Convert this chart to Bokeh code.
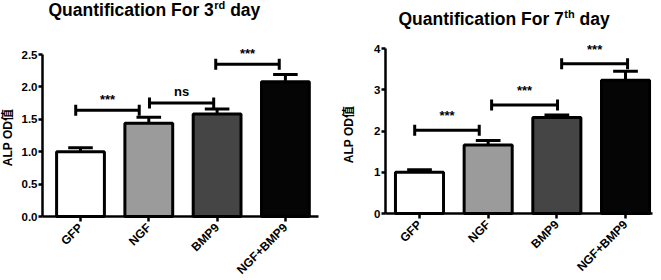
import math
from bokeh.plotting import figure
from bokeh.layouts import row
from bokeh.models import FixedTicker, Label, Range1d, NumeralTickFormatter, ColumnDataSource
from bokeh.embed import file_html
from bokeh.resources import INLINE

# ---------------- data ----------------
categories = ["GFP", "NGF", "BMP9", "NGF+BMP9"]
bar_colors = ["#ffffff", "#9b9b9b", "#454545", "#050505"]

day3_mean = [1.00, 1.44, 1.58, 2.08]
day3_err = [0.06, 0.09, 0.08, 0.11]
day3_ticks = [0.0, 0.5, 1.0, 1.5, 2.0, 2.5]
day3_sig_text = ["***", "ns", "***"]
day3_sig_y = [1.64, 1.75, 2.35]
day3_sig_x0 = [-0.07, 1.01, 1.98]
day3_sig_x1 = [0.86, 1.95, 2.91]

day7_mean = [1.00, 1.66, 2.33, 3.23]
day7_err = [0.06, 0.11, 0.06, 0.22]
day7_ticks = [0, 1, 2, 3, 4]
day7_sig_text = ["***", "***", "***"]
day7_sig_y = [2.02, 2.63, 3.63]
day7_sig_x0 = [-0.07, 1.05, 2.07]
day7_sig_x1 = [0.87, 2.01, 3.03]

y_label = "ALP OD值"

FONT = "Liberation Sans"
YFONT = "Liberation Sans, Noto Sans CJK SC"
LSHIFT = 7.0  # empirical correction of Label baseline placement (px)

# Arial-bold advance widths (per 1000 em) for title layout
AW = {"Q": 778, "u": 611, "a": 556, "n": 611, "t": 333, "i": 278, "f": 333,
      "c": 556, "o": 611, " ": 278, "F": 611, "r": 389, "3": 556, "7": 556,
      "d": 611, "y": 556, "h": 611}


def text_w(s, size):
    return sum(AW.get(ch, 556) for ch in s) * size / 1000.0


def make_chart(t_main, t_sup, t_rest, means, errs, yticks, yfmt, sig_text, sig_y,
               sig_x0, sig_x1, geo):
    W, H = geo["W"], geo["H"]
    ax_px, c0_px, step, xend_px = geo["axis_x"], geo["cat0_x"], geo["step"], geo["xend_x"]
    y0_px, ytop_px = geo["y0_y"], geo["ytop_y"]
    ymax = yticks[-1]
    ppu = (y0_px - ytop_px) / ymax

    xs = -c0_px / step
    xe = xs + W / step
    ys = -(H - y0_px) / ppu
    ye = ymax + ytop_px / ppu

    def dx(px):
        return xs + px / step

    def dy(py):
        return ye - py / ppu

    p = figure(width=W, height=H, x_range=Range1d(xs, xe), y_range=Range1d(ys, ye),
               output_backend="svg", toolbar_location=None, title=None, min_border=0)
    p.outline_line_color = None
    p.background_fill_color = "white"
    p.border_fill_color = "white"
    p.xgrid.visible = False
    p.ygrid.visible = False

    idx = list(range(len(categories)))
    xa = p.xaxis[0]
    xa.fixed_location = 0
    xa.bounds = (dx(ax_px), dx(xend_px))
    xa.ticker = FixedTicker(ticks=idx)
    xa.major_label_overrides = {i: c for i, c in zip(idx, categories)}
    xa.major_label_orientation = math.pi / 4
    xa.major_label_text_font = FONT
    xa.major_label_text_font_style = "bold"
    xa.major_label_text_font_size = "12px"
    xa.major_label_text_color = "black"
    xa.major_label_standoff = 4
    xa.axis_line_width = 2.5
    xa.axis_line_color = "black"
    xa.major_tick_line_width = 2.5
    xa.major_tick_line_color = "black"
    xa.major_tick_out = 5
    xa.major_tick_in = 0
    xa.minor_tick_line_color = None

    ya = p.yaxis[0]
    ya.fixed_location = dx(ax_px)
    ya.bounds = (0, ymax)
    ya.ticker = FixedTicker(ticks=yticks)
    ya.formatter = NumeralTickFormatter(format=yfmt)
    ya.major_label_text_font = FONT
    ya.major_label_text_font_style = "bold"
    ya.major_label_text_font_size = "11.5px"
    ya.major_label_text_color = "black"
    ya.major_label_standoff = 1
    ya.axis_line_width = 2.5
    ya.axis_line_color = "black"
    ya.major_tick_line_width = 2.5
    ya.major_tick_line_color = "black"
    ya.major_tick_out = 4
    ya.major_tick_in = 0
    ya.minor_tick_line_color = None

    # y axis title (rotated)
    p.add_layout(Label(x=dx(geo["ylab_x"] - LSHIFT), y=dy(geo["ylab_y"]), text=y_label,
                       angle=math.pi / 2, text_align="center", text_baseline="alphabetic",
                       text_font=YFONT, text_font_style="bold", text_font_size="12px",
                       text_color="black"))

    src = ColumnDataSource(dict(x=idx, top=means, color=bar_colors,
                                etop=[m + e for m, e in zip(means, errs)]))
    bw = 0.70
    cw = 0.18
    p.vbar(x="x", top="top", width=bw, source=src, fill_color="color",
           line_color="black", line_width=3)
    p.segment(x0="x", y0="top", x1="x", y1="etop", source=src,
              line_color="black", line_width=3)
    p.segment(x0=[i - cw for i in idx], y0=src.data["etop"],
              x1=[i + cw for i in idx], y1=src.data["etop"],
              line_color="black", line_width=3)

    cap = 5.5 / ppu
    p.segment(x0=sig_x0, y0=sig_y, x1=sig_x1, y1=sig_y, line_color="black", line_width=3)
    p.segment(x0=sig_x0, y0=[y - cap for y in sig_y], x1=sig_x0, y1=[y + cap for y in sig_y],
              line_color="black", line_width=3)
    p.segment(x0=sig_x1, y0=[y - cap for y in sig_y], x1=sig_x1, y1=[y + cap for y in sig_y],
              line_color="black", line_width=3)

    for txt, y, a, b in zip(sig_text, sig_y, sig_x0, sig_x1):
        center = 7.3 if "*" in txt else 6.4
        base = geo["star_gap"] - center + LSHIFT
        p.add_layout(Label(x=(a + b) / 2, y=y + base / ppu, text=txt,
                           text_align="center", text_baseline="alphabetic",
                           text_font=FONT, text_font_style="bold",
                           text_font_size="13px", text_color="black"))

    # title with superscript
    ms, ss = 17.5, 11
    tx, tby = geo["title_x"], geo["title_base"] - LSHIFT
    w1 = text_w(t_main, ms)
    w2 = text_w(t_sup, ss)
    wsp = text_w(" ", ms)
    for txt, px, py, size in [(t_main, tx, tby, ms), (t_sup, tx + w1 + 0.5, tby - 4.5, ss),
                              (t_rest, tx + w1 + w2 + wsp + 0.5, tby, ms)]:
        p.add_layout(Label(x=dx(px), y=dy(py), text=txt, text_align="left",
                           text_baseline="alphabetic", text_font=FONT,
                           text_font_style="bold", text_font_size=f"{size}px",
                           text_color="black"))
    return p


# figure-pixel geometry (figure px == picture px; right figure starts at x 330)
geo_left = dict(W=330, H=280, axis_x=42, cat0_x=80, step=68.3, xend_x=318,
                y0_y=216, ytop_y=54, ylab_x=14.5, ylab_y=137,
                star_gap=11, title_x=48, title_base=16)
geo_right = dict(W=331, H=280, axis_x=55, cat0_x=89, step=68.67, xend_x=322,
                 y0_y=213, ytop_y=48, ylab_x=25, ylab_y=134,
                 star_gap=15, title_x=68, title_base=25)

p1 = make_chart("Quantification For 3", "rd", "day", day3_mean, day3_err, day3_ticks, "0.0",
                day3_sig_text, day3_sig_y, day3_sig_x0, day3_sig_x1, geo_left)
p2 = make_chart("Quantification For 7", "th", "day", day7_mean, day7_err, day7_ticks, "0",
                day7_sig_text, day7_sig_y, day7_sig_x0, day7_sig_x1, geo_right)

layout = row(p1, p2)
open("out.html", "w").write(file_html(layout, INLINE))
